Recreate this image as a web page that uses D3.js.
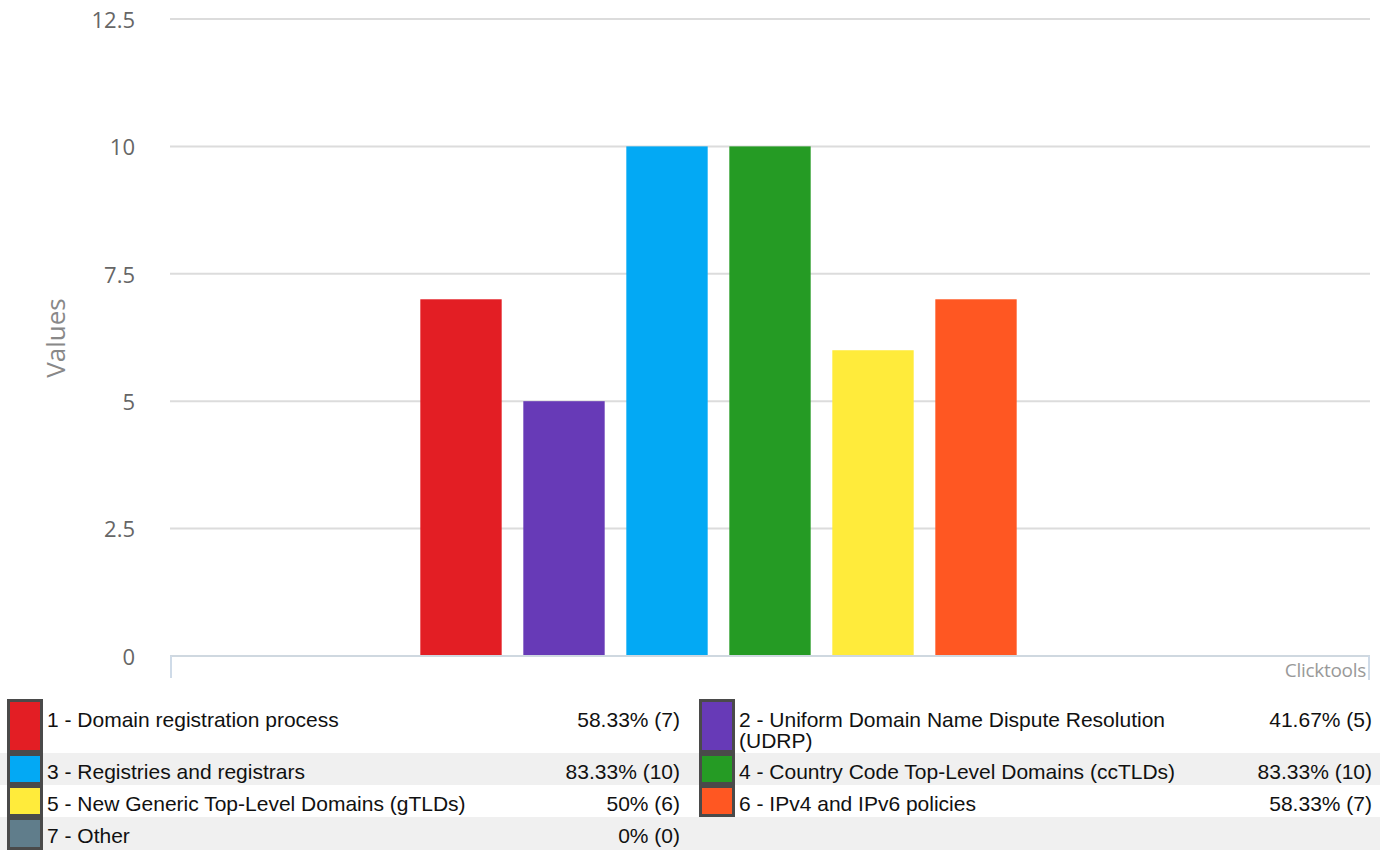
<!DOCTYPE html>
<html><head><meta charset="utf-8">
<script src="https://cdn.jsdelivr.net/npm/d3@7"></script>
<style>html,body{margin:0;padding:0;background:#fff;}svg{display:block;}</style>
</head><body>
<script>
const categories = ["1 - Domain registration process","2 - Uniform Domain Name Dispute Resolution (UDRP)","3 - Registries and registrars","4 - Country Code Top-Level Domains (ccTLDs)","5 - New Generic Top-Level Domains (gTLDs)","6 - IPv4 and IPv6 policies","7 - Other"];
const values = [7,5,10,10,6,7,0];
const percents = ["58.33%","41.67%","83.33%","83.33%","50%","58.33%","0%"];
const colors = ["#e31e24","#673ab7","#03a9f4","#259b24","#ffeb3b","#ff5722","#607d8b"];
const yTicks = [0,2.5,5,7.5,10,12.5];

const W=1388,H=850;
const svg=d3.select("body").append("svg").attr("width",W).attr("height",H);
const plotL=170, plotR=1370, y0=656, yTop=19;
const y=d3.scaleLinear().domain([0,12.5]).range([y0,yTop]);
const step=103, n=categories.length, cx=(plotL+plotR)/2;
const x=d3.scaleBand().domain(d3.range(n)).range([cx-step*n/2, cx+step*n/2]).paddingInner(0.21).paddingOuter(0.105);

// y axis labels
const yAxis=d3.axisLeft(y).tickValues(yTicks).tickSize(0).tickPadding(0).tickFormat(d=>String(d));
const ga=svg.append("g").attr("transform",`translate(135,0)`).call(yAxis);
ga.select(".domain").remove();
ga.selectAll("text").attr("font-family","'Open Sans',sans-serif").attr("font-size",22).attr("fill","#666").attr("dy","0.38em");
// grid
svg.append("g").selectAll("line").data(yTicks.filter(d=>d>0)).join("line")
  .attr("x1",plotL).attr("x2",plotR).attr("y1",d=>y(d)).attr("y2",d=>y(d))
  .attr("stroke","#dcdcdc").attr("stroke-width",2);

// bars
svg.append("g").selectAll("rect").data(values).join("rect")
  .attr("x",(d,i)=>x(i)).attr("width",x.bandwidth())
  .attr("y",d=>y(d)).attr("height",d=>y(0)-y(d)).attr("fill",(d,i)=>colors[i]);

// baseline
svg.append("line").attr("x1",plotL).attr("x2",plotR).attr("y1",y0).attr("y2",y0).attr("stroke","#cfd8e0").attr("stroke-width",2);
svg.append("line").attr("x1",plotL+1).attr("x2",plotL+1).attr("y1",y0).attr("y2",678).attr("stroke","#cfdbe8").attr("stroke-width",2);
svg.append("line").attr("x1",plotR-1).attr("x2",plotR-1).attr("y1",y0).attr("y2",680).attr("stroke","#cfdbe8").attr("stroke-width",2);
svg.append("text").attr("x",1366).attr("y",677).attr("text-anchor","end").attr("font-family","'Open Sans',sans-serif").attr("font-size",19).attr("letter-spacing",-0.3).attr("fill","#999").text("Clicktools");

// y title
svg.append("text").attr("transform","translate(65,338) rotate(-90)").attr("text-anchor","middle")
  .attr("font-family","'Open Sans',sans-serif").attr("font-size",26).attr("fill","#888").text("Values");

// legend
const rows=[{top:699,h:54},{top:753,h:32},{top:785,h:32},{top:817,h:33}];
const colsX=[{sw:7,tx:47,px:680},{sw:699,tx:739,px:1372}];
const lg=svg.append("g");
rows.forEach((r,ri)=>{ if(ri%2===1) lg.append("rect").attr("x",0).attr("width",1380).attr("y",r.top).attr("height",r.h).attr("fill","#f0f0f0");});
const font="'Liberation Sans',Arial,sans-serif";
categories.forEach((c,i)=>{
  const ri=Math.floor(i/2), ci=i%2, r=rows[ri], col=colsX[ci];
  lg.append("rect").attr("x",col.sw+1.5).attr("y",r.top+1.5).attr("width",33).attr("height",r.h-3)
    .attr("fill",colors[i]).attr("stroke","#4a4a4a").attr("stroke-width",3);
  const t=lg.append("text").attr("font-family",font).attr("font-size",21).attr("fill","#111");
  const words=c.split(" "); let lines=[]; let cur="";
  const tmp=lg.append("text").attr("font-family",font).attr("font-size",21);
  words.forEach(w=>{const test=cur?cur+" "+w:w; tmp.text(test); if(tmp.node().getComputedTextLength()>480&&cur){lines.push(cur);cur=w;} else cur=test;});
  lines.push(cur); tmp.remove();
  const base = r.top + (ri===0?28:r.h/2+9.5);
  lines.forEach((l,li)=>t.append("tspan").attr("x",col.tx).attr("y",base+li*21).text(l));
  lg.append("text").attr("x",col.px).attr("y",base).attr("text-anchor","end").attr("font-family",font).attr("font-size",21).attr("fill","#111")
    .text(`${percents[i]} (${values[i]})`);
});
</script>
</body></html>
